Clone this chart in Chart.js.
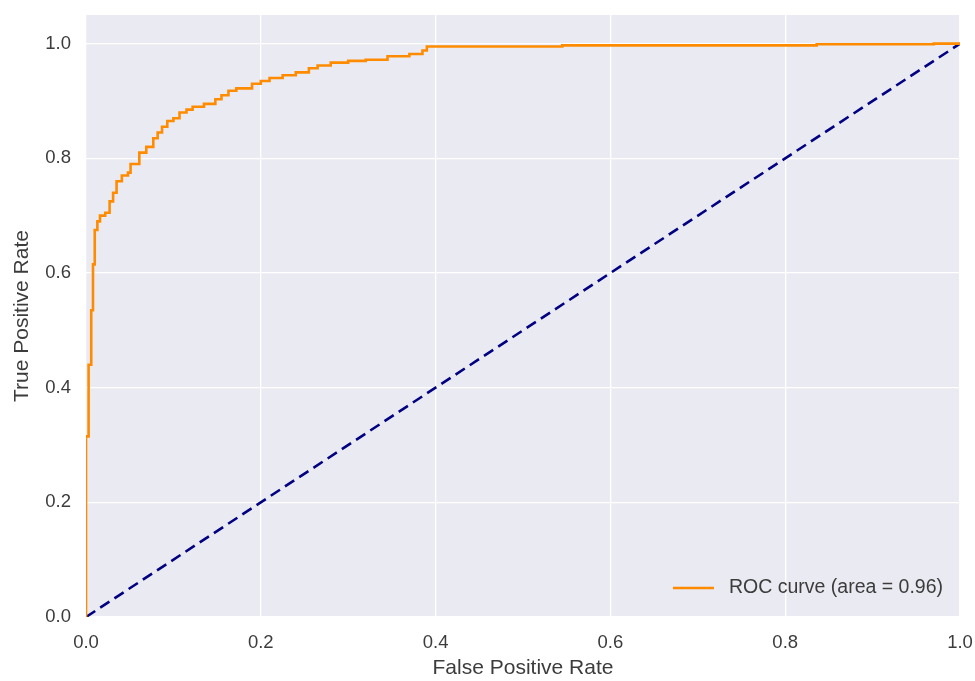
<!DOCTYPE html>
<html lang="en">
<head>
	<meta charset="UTF-8">
	<title>ROC curve</title>
	<script src="https://cdn.jsdelivr.net/npm/chart.js"></script>
	<style>
		body { margin: 0; background: #ffffff; }
		canvas { display: block; }
	</style>
</head>
<body>
	<canvas id="rocChart" width="975" height="681"></canvas>

	<script>
		// ROC curve corner points
		const fpr = [0, 0, 0.003, 0.003, 0.006, 0.006, 0.008, 0.008, 0.010, 0.010, 0.013, 0.013, 0.016, 0.016,
			0.022, 0.022, 0.027, 0.027, 0.031, 0.031, 0.035, 0.035, 0.041, 0.041, 0.048, 0.048, 0.051, 0.051,
			0.061, 0.061, 0.069, 0.069, 0.077, 0.077, 0.082, 0.082, 0.087, 0.087, 0.093, 0.093, 0.100, 0.100,
			0.107, 0.107, 0.115, 0.115, 0.122, 0.122, 0.135, 0.135, 0.148, 0.148, 0.155, 0.155, 0.163, 0.163,
			0.172, 0.172, 0.190, 0.190, 0.200, 0.200, 0.210, 0.210, 0.225, 0.225, 0.240, 0.240, 0.255, 0.255,
			0.265, 0.265, 0.280, 0.280, 0.300, 0.300, 0.320, 0.320, 0.345, 0.345, 0.370, 0.370, 0.385, 0.385,
			0.390, 0.390, 0.545, 0.545, 0.836, 0.836, 0.970, 0.970, 1.0];
		const tpr = [0, 0.315, 0.315, 0.440, 0.440, 0.535, 0.535, 0.615, 0.615, 0.675, 0.675, 0.690, 0.690, 0.700,
			0.700, 0.705, 0.705, 0.725, 0.725, 0.740, 0.740, 0.760, 0.760, 0.770, 0.770, 0.775, 0.775, 0.790,
			0.790, 0.810, 0.810, 0.820, 0.820, 0.835, 0.835, 0.845, 0.845, 0.855, 0.855, 0.865, 0.865, 0.870,
			0.870, 0.880, 0.880, 0.885, 0.885, 0.890, 0.890, 0.895, 0.895, 0.903, 0.903, 0.910, 0.910, 0.918,
			0.918, 0.922, 0.922, 0.930, 0.930, 0.935, 0.935, 0.940, 0.940, 0.945, 0.945, 0.950, 0.950, 0.957,
			0.957, 0.962, 0.962, 0.967, 0.967, 0.970, 0.970, 0.972, 0.972, 0.978, 0.978, 0.982, 0.982, 0.988,
			0.988, 0.995, 0.995, 0.997, 0.997, 0.999, 0.999, 1.0, 1.0];
		const chanceX = [0, 1];
		const chanceY = [0, 1];
		const xTickValues = [0, 0.2, 0.4, 0.6, 0.8, 1.0];
		const yTickValues = [0, 0.2, 0.4, 0.6, 0.8, 1.0];
		const rocLabel = 'ROC curve (area = 0.96)';

		const fontFamily = '"Liberation Sans", Arial, sans-serif';
		const textColor = '#3c3c3c';

		// grey panel behind the plot, seaborn style
		const panelBackground = {
			id: 'panelBackground',
			beforeDraw(chart) {
				const { ctx, chartArea: a } = chart;
				ctx.save();
				ctx.fillStyle = '#eaeaf2';
				ctx.fillRect(a.left, a.top, a.right - a.left, a.bottom - a.top);
				ctx.restore();
			}
		};

		// frameless legend in the lower right corner
		const cornerLegend = {
			id: 'cornerLegend',
			afterDatasetsDraw(chart) {
				const { ctx, chartArea: a } = chart;
				const ds = chart.data.datasets[0];
				const y = a.bottom - 29;
				ctx.save();
				ctx.font = '19.5px ' + fontFamily;
				const w = ctx.measureText(ds.label).width;
				const textX = a.right - 17 - w;
				ctx.strokeStyle = ds.borderColor;
				ctx.lineWidth = ds.borderWidth;
				ctx.beginPath();
				ctx.moveTo(textX - 56, y);
				ctx.lineTo(textX - 15, y);
				ctx.stroke();
				ctx.fillStyle = textColor;
				ctx.textBaseline = 'middle';
				ctx.fillText(ds.label, textX, y);
				ctx.restore();
			}
		};

		const ctx = document.getElementById('rocChart').getContext('2d');
		const rocChart = new Chart(ctx, {
			type: 'scatter',
			data: {
				datasets: [{
					label: rocLabel,
					data: fpr.map((x, i) => ({ x: x, y: tpr[i] })),
					showLine: true,
					borderColor: '#ff8c00',
					borderWidth: 2.6,
					pointRadius: 0,
					fill: false
				}, {
					label: 'chance',
					data: chanceX.map((x, i) => ({ x: x, y: chanceY[i] })),
					showLine: true,
					borderColor: '#000080',
					borderWidth: 2.6,
					borderDash: [11, 6],
					pointRadius: 0,
					fill: false
				}]
			},
			options: {
				responsive: false,
				animation: false,
				layout: { padding: { top: 15, right: 15, left: 0, bottom: 0 } },
				plugins: {
					legend: { display: false },
					tooltip: { enabled: false }
				},
				scales: {
					x: {
						type: 'linear',
						min: 0,
						max: 1,
						afterBuildTicks: scale => { scale.ticks = xTickValues.map(v => ({ value: v })); },
						afterFit: scale => {
							scale.height = 64;
							scale.paddingLeft = 0;
							scale.paddingRight = 0;
						},
						grid: { color: '#ffffff', lineWidth: 1.3, drawTicks: false },
						border: { display: false },
						ticks: {
							padding: 15,
							color: textColor,
							font: { family: fontFamily, size: 18.5 },
							callback: v => v.toFixed(1),
							maxRotation: 0
						},
						title: {
							display: true,
							text: 'False Positive Rate',
							color: textColor,
							font: { family: fontFamily, size: 21 },
							padding: { top: 0, bottom: 0 }
						}
					},
					y: {
						type: 'linear',
						min: 0,
						max: 1.05,
						afterBuildTicks: scale => { scale.ticks = yTickValues.map(v => ({ value: v })); },
						afterFit: scale => {
							scale.width = 86;
							scale.paddingTop = 0;
							scale.paddingBottom = 0;
						},
						grid: { color: '#ffffff', lineWidth: 1.3, drawTicks: false },
						border: { display: false },
						ticks: {
							padding: 15,
							color: textColor,
							font: { family: fontFamily, size: 18.5 },
							callback: v => v.toFixed(1)
						},
						title: {
							display: true,
							text: 'True Positive Rate',
							color: textColor,
							font: { family: fontFamily, size: 21 },
							padding: { top: 10, bottom: 0 }
						}
					}
				}
			},
			plugins: [panelBackground, cornerLegend]
		});
	</script>
</body>
</html>
